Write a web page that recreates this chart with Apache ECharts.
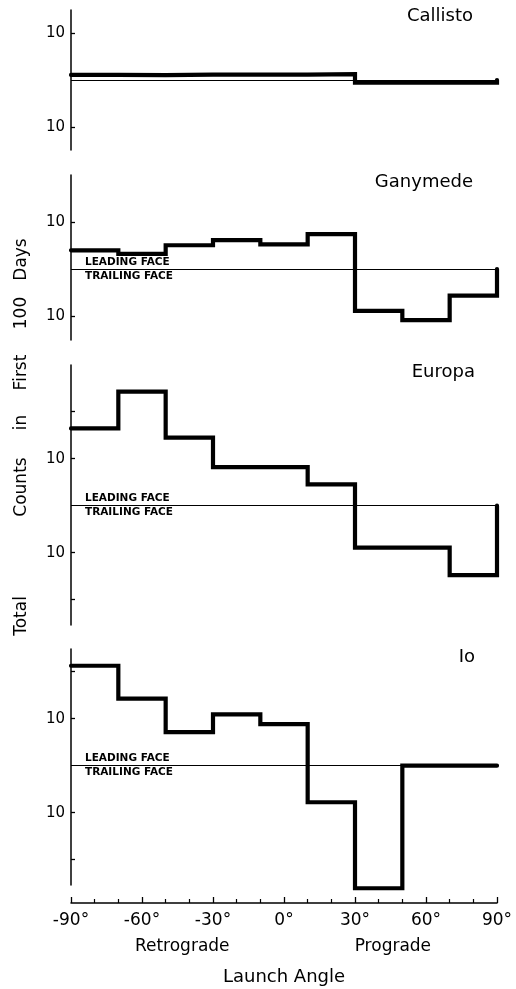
<!DOCTYPE html>
<html><head><meta charset="utf-8">
<script src="https://cdn.jsdelivr.net/npm/echarts@6/dist/echarts.min.js"></script>
<style>html,body{margin:0;padding:0;background:#fff}#c{width:516px;height:989px}</style>
</head><body><div id="c"></div><script>
// ---- data ----
const binEdges = [-90, -70, -50, -30, -10, 10, 30, 50, 70, 90];
const moons = ['Callisto', 'Ganymede', 'Europa', 'Io'];
// counts per 20° bin: positive = leading face, negative = trailing face
const callisto = [1.28, 1.27, 1.3, 1.3, 1.3, 1.33, -1.14, -1.14, -1.14];
const ganymede = [2.5, 2.1, 3.2, 4.1, 3.35, 5.5, -7.8, -12.2, -3.7];
const europa = [44, 268, 28, 6.6, 6.6, 2.85, -7.8, -7.8, -30];
const io = [134, 26.7, 5.2, 12.4, 7.7, -6, -405, 0, 0];
const xTickLabels = [-90, -60, -30, 0, 30, 60, 90];
const directionLabels = ['Retrograde', 'Prograde'];
const directionAngles = [-43, 46];
const faceLabels = ['LEADING FACE', 'TRAILING FACE'];
const yTitleWords = ['Total', 'Counts', 'in', 'First', '100', 'Days'];

const FONT = "'DejaVu Sans',sans-serif";
const seriesData = [callisto, ganymede, europa, io];

function signedLog(c) { return c === 0 ? 0 : Math.sign(c) * Math.log10(Math.abs(c)); }
function stepPoints(vals) {
  const pts = vals.map((v, i) => [binEdges[i], signedLog(v)]);
  const last = binEdges[binEdges.length - 1];
  pts.push([last, signedLog(vals[vals.length - 1])]);
  pts.push([last, 0]);
  return pts;
}

// layout (pixels) : decade = 47 px
const D = 47;
const panels = [
  { top: 10, h: 140, center: 80, faces: false, titleTop: 7 },
  { top: 175, h: 165, center: 269, faces: true, titleTop: 173 },
  { top: 365, h: 260, center: 505.7, faces: true, titleTop: 363 },
  { top: 649, h: 236, center: 765.7, faces: true, titleTop: 648 }
];
const titleRight = [43, 43, 41, 41];
const yTitleCenters = [616, 487, 422.5, 372.5, 313, 259.5];

const grids = [], xAxes = [], yAxes = [], series = [], titles = [];
panels.forEach((p, i) => {
  const ymax = (p.center - p.top) / D;
  const ymin = -(p.top + p.h - p.center) / D;
  grids.push({ left: 71, right: 19, top: p.top, height: p.h });
  xAxes.push({ gridIndex: i, type: 'value', min: -90, max: 90, show: false });
  const tv = [-2, -1, 1, 2].filter(v => v > ymin + 0.01 && v < ymax - 0.01);
  yAxes.push({
    gridIndex: i, type: 'value', min: ymin, max: ymax,
    splitLine: { show: false },
    axisLine: { show: true, onZero: false, lineStyle: { color: '#000', width: 1.5 } },
    axisTick: { show: true, inside: true, length: 4, customValues: tv, lineStyle: { color: '#000', width: 1.3 } },
    axisLabel: { show: true, customValues: [-1, 1], formatter: () => '10', color: '#000', fontSize: 15, fontFamily: FONT, margin: 6 }
  });
  const mlData = p.faces ? [
    { yAxis: 0, label: { show: true, formatter: faceLabels[0], position: 'insideStartTop' } },
    { yAxis: 0, label: { show: true, formatter: faceLabels[1], position: 'insideStartBottom' } }
  ] : [{ yAxis: 0, label: { show: false } }];
  series.push({
    type: 'line', xAxisIndex: i, yAxisIndex: i, step: 'end', showSymbol: false, silent: true,
    clip: false,
    data: stepPoints(seriesData[i]),
    lineStyle: { color: '#000', width: 4.2, cap: 'round', join: 'miter' },
    z: 3,
    markLine: {
      silent: true, symbol: 'none', animation: false,
      lineStyle: { color: '#000', width: 1.2, type: 'solid' },
      label: { color: '#000', fontSize: 10.5, fontWeight: 'bold', fontFamily: FONT, distance: [14, 1.5] },
      emphasis: { disabled: true },
      data: mlData
    }
  });
  titles.push({ text: moons[i], right: titleRight[i], top: p.titleTop, padding: 0,
    textStyle: { color: '#000', fontSize: 18, fontWeight: 'normal', fontFamily: FONT } });
});

// bottom x axis grid
grids.push({ left: 71, right: 19, top: 902, height: 1 });
xAxes.push({
  gridIndex: 4, type: 'value', min: -90, max: 90, interval: 30, position: 'bottom',
  axisLine: { show: true, onZero: false, lineStyle: { color: '#000', width: 1.5 } },
  axisTick: { show: true, inside: true, length: 6, lineStyle: { color: '#000', width: 1.3 } },
  minorTick: { show: true, splitNumber: 3, length: 4, lineStyle: { color: '#000', width: 1.2 } },
  splitLine: { show: false },
  axisLabel: { color: '#000', fontSize: 17, fontFamily: FONT, margin: 9,
    customValues: xTickLabels, formatter: v => v + '°' },
  name: 'Launch Angle', nameLocation: 'middle', nameGap: 65,
  nameTextStyle: { color: '#000', fontSize: 18, fontFamily: FONT }
});
xAxes.push({
  gridIndex: 4, type: 'value', min: -90, max: 90, position: 'bottom',
  axisLine: { show: false }, axisTick: { show: false }, splitLine: { show: false },
  axisLabel: { color: '#000', fontSize: 17, fontFamily: FONT, margin: 35,
    customValues: directionAngles, formatter: v => directionLabels[directionAngles.indexOf(v)] }
});
yAxes.push({ gridIndex: 4, type: 'value', min: 0, max: 1, show: false });

const graphics = yTitleWords.map((w, k) => ({
  type: 'text', x: 22, y: yTitleCenters[k], rotation: Math.PI / 2,
  style: { text: w, fill: '#000', fontSize: 17, fontFamily: FONT, textAlign: 'center', textVerticalAlign: 'middle' }
}));

const chart = echarts.init(document.getElementById('c'), null, { renderer: 'canvas' });
chart.setOption({
  backgroundColor: '#fff',
  animation: false,
  title: titles,
  grid: grids,
  xAxis: xAxes,
  yAxis: yAxes,
  series: series,
  graphic: graphics
});
</script></body></html>
